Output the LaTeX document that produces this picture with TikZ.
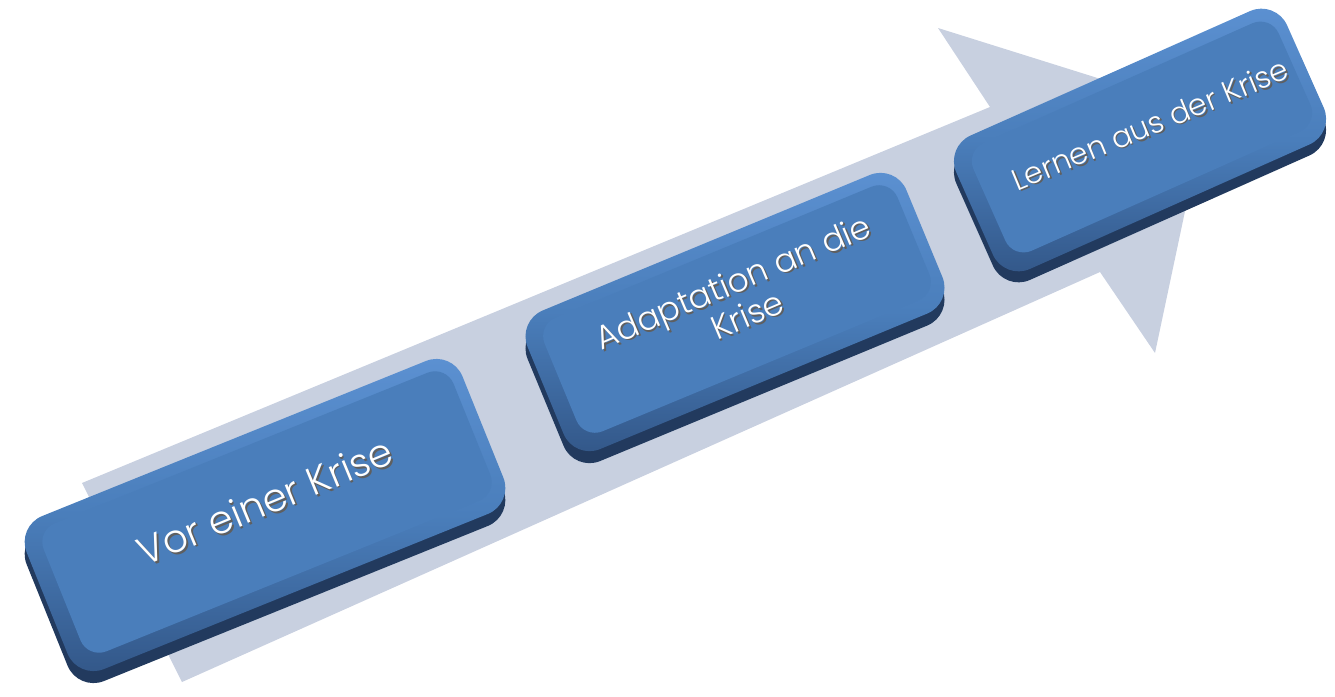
\documentclass[tikz,border=0pt]{standalone}
\usepackage{fontspec}
\setmainfont{Poppins Light}
\usetikzlibrary{calc}
\definecolor{arrowc}{RGB}{200,208,224}
\definecolor{facec}{RGB}{74,126,187}
\definecolor{facetop}{RGB}{92,145,210}
\definecolor{facebot}{RGB}{50,86,135}
\definecolor{depthc}{RGB}{34,58,94}
\definecolor{txtsh}{RGB}{95,95,95}
\begin{document}
\begin{tikzpicture}[x=1pt,y=-1pt,
  depthbox/.style={rectangle, rounded corners=28pt, fill=depthc, inner sep=0pt},
  facebox/.style={rectangle, rounded corners=28pt, top color=facetop, bottom color=facebot, middle color=facec, inner sep=0pt},
  innerbox/.style={rectangle, rounded corners=20pt, fill=facec, inner sep=0pt},
  lbl/.style={text=white, align=center, inner sep=0pt},
  lblsh/.style={text=txtsh, align=center, inner sep=0pt}]
\useasboundingbox (0,0) rectangle (1335,696);

% big arrow
\coordinate (sTL) at (82,483);
\coordinate (sTJ) at (990,107);
\coordinate (uB)  at (938,28);
\coordinate (tip) at (1206,112);
\coordinate (lB)  at (1155,353);
\coordinate (sBJ) at (1100,272);
\coordinate (sBL) at (182,682);
\fill[arrowc] (sTL) -- (sTJ) -- (uB) -- (tip) -- (lB) -- (sBJ) -- (sBL) -- cycle;

% box 1
\node[depthbox, rotate=22, minimum width=470pt, minimum height=165pt] (d1) at (265,527) {};
\node[facebox, rotate=22, minimum width=470pt, minimum height=165pt] (b1) at (265,515) {};
\node[innerbox, rotate=22, minimum width=442pt, minimum height=138pt] (i1) at (267,512) {};
\node[lblsh, rotate=22.5, font=\fontsize{39}{43}\selectfont] (s1) at ($(b1)+(1.8,-12.2)$) {Vor einer Krise};
\node[lbl, rotate=22.5, font=\fontsize{39}{43}\selectfont] (t1) at ($(b1)+(0,-14)$) {Vor einer Krise};

% box 2
\node[depthbox, rotate=22.5, minimum width=410pt, minimum height=150pt] (d2) at (735,324) {};
\node[facebox, rotate=22.5, minimum width=410pt, minimum height=150pt] (b2) at (735,312) {};
\node[innerbox, rotate=22.5, minimum width=382pt, minimum height=123pt] (i2) at (737,309) {};
\node[lblsh, rotate=23, font=\fontsize{33}{36}\selectfont] (s2) at ($(b2)+(6.8,-12.2)$) {Adaptation an die\\Krise};
\node[lbl, rotate=23, font=\fontsize{33}{36}\selectfont] (t2) at ($(b2)+(5,-14)$) {Adaptation an die\\Krise};

% box 3
\node[depthbox, rotate=24, minimum width=362pt, minimum height=146pt] (d3) at (1140,151) {};
\node[facebox, rotate=24, minimum width=362pt, minimum height=146pt] (b3) at (1140,140) {};
\node[innerbox, rotate=24, minimum width=334pt, minimum height=118pt] (i3) at (1142,137) {};
\node[lblsh, rotate=22.5, font=\fontsize{30}{34}\selectfont] (s3) at ($(b3)+(11.8,-14.2)$) {Lernen aus der Krise};
\node[lbl, rotate=22.5, font=\fontsize{30}{34}\selectfont] (t3) at ($(b3)+(10,-16)$) {Lernen aus der Krise};
\end{tikzpicture}
\end{document}
